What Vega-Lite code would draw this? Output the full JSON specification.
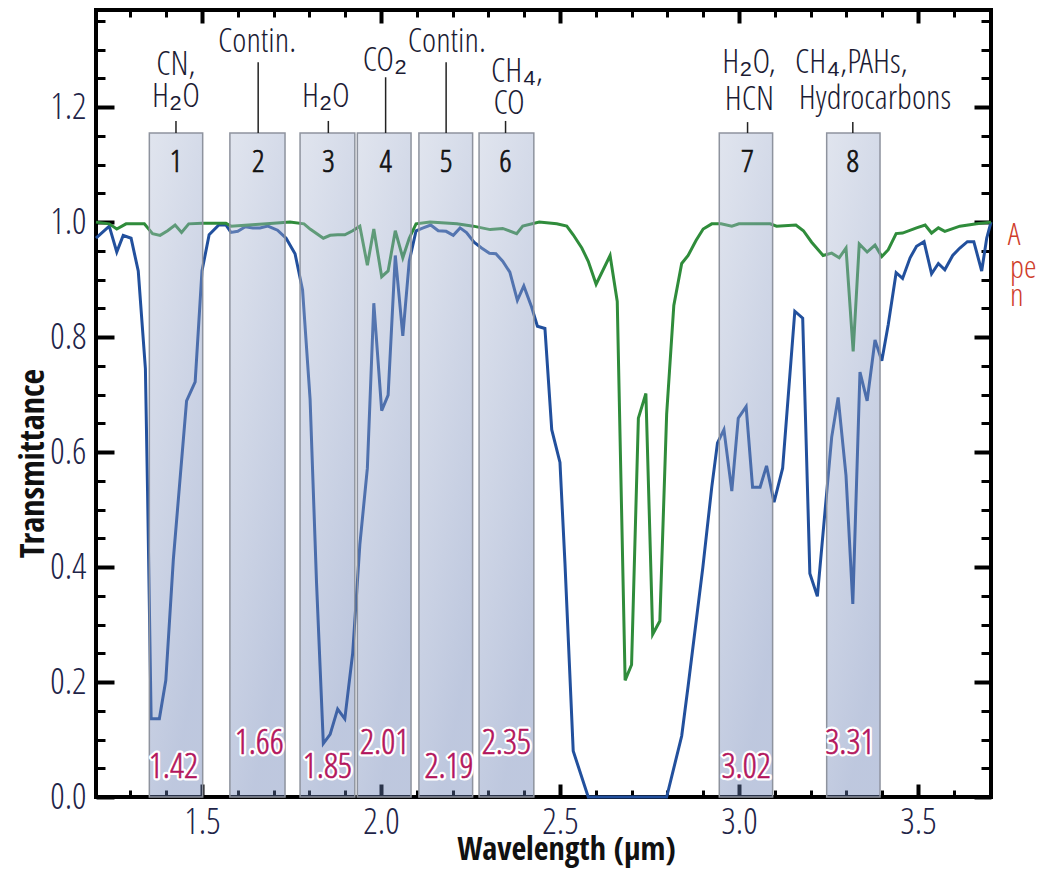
{
  "$schema": "https://vega.github.io/schema/vega-lite/v6.json",
  "width": 895,
  "height": 787,
  "autosize": {"type": "none"},
  "padding": {"left": 96, "top": 10, "right": 56, "bottom": 72},
  "background": "white",
  "config": {
    "view": {"stroke": "#000", "strokeWidth": 4},
    "axis": {"grid": false, "domain": false, "tickColor": "#000"}
  },
  "datasets": {
    "blue": [
      {"wl":1.204,"t":0.972},{"wl":1.241,"t":0.993},{"wl":1.262,"t":0.948},{"wl":1.280,"t":0.977},{"wl":1.302,"t":0.972},
      {"wl":1.322,"t":0.915},{"wl":1.342,"t":0.745},{"wl":1.348,"t":0.532},{"wl":1.358,"t":0.136},{"wl":1.381,"t":0.136},
      {"wl":1.399,"t":0.203},{"wl":1.420,"t":0.413},{"wl":1.457,"t":0.689},{"wl":1.481,"t":0.722},{"wl":1.500,"t":0.915},
      {"wl":1.520,"t":0.978},{"wl":1.547,"t":0.995},{"wl":1.567,"t":0.995},{"wl":1.581,"t":0.982},{"wl":1.600,"t":0.984},
      {"wl":1.621,"t":0.992},{"wl":1.642,"t":0.990},{"wl":1.662,"t":0.990},{"wl":1.684,"t":0.993},{"wl":1.711,"t":0.986},
      {"wl":1.735,"t":0.972},{"wl":1.760,"t":0.945},{"wl":1.781,"t":0.882},{"wl":1.802,"t":0.692},{"wl":1.820,"t":0.373},
      {"wl":1.839,"t":0.093},{"wl":1.858,"t":0.109},{"wl":1.879,"t":0.153},{"wl":1.899,"t":0.136},{"wl":1.921,"t":0.250},
      {"wl":1.941,"t":0.439},{"wl":1.962,"t":0.572},{"wl":1.980,"t":0.859},{"wl":2.002,"t":0.672},{"wl":2.020,"t":0.699},
      {"wl":2.040,"t":0.942},{"wl":2.061,"t":0.802},{"wl":2.079,"t":0.932},{"wl":2.098,"t":0.985},{"wl":2.118,"t":0.990},
      {"wl":2.139,"t":0.995},{"wl":2.160,"t":0.985},{"wl":2.182,"t":0.984},{"wl":2.202,"t":0.977},{"wl":2.221,"t":0.990},
      {"wl":2.239,"t":0.982},{"wl":2.260,"t":0.965},{"wl":2.281,"t":0.955},{"wl":2.303,"t":0.946},{"wl":2.321,"t":0.945},
      {"wl":2.340,"t":0.932},{"wl":2.360,"t":0.913},{"wl":2.381,"t":0.864},{"wl":2.399,"t":0.889},{"wl":2.421,"t":0.852},
      {"wl":2.437,"t":0.819},{"wl":2.458,"t":0.815},{"wl":2.477,"t":0.639},{"wl":2.500,"t":0.582},{"wl":2.514,"t":0.406},
      {"wl":2.537,"t":0.080},{"wl":2.579,"t":0.0},{"wl":2.640,"t":0.0},{"wl":2.798,"t":0.0},{"wl":2.840,"t":0.106},
      {"wl":2.858,"t":0.193},{"wl":2.899,"t":0.399},{"wl":2.924,"t":0.539},{"wl":2.940,"t":0.616},{"wl":2.958,"t":0.639},
      {"wl":2.980,"t":0.532},{"wl":2.998,"t":0.659},{"wl":3.020,"t":0.679},{"wl":3.038,"t":0.539},{"wl":3.059,"t":0.539},
      {"wl":3.077,"t":0.576},{"wl":3.098,"t":0.513},{"wl":3.122,"t":0.572},{"wl":3.156,"t":0.845},{"wl":3.178,"t":0.833},
      {"wl":3.198,"t":0.389},{"wl":3.219,"t":0.349},{"wl":3.259,"t":0.626},{"wl":3.277,"t":0.695},{"wl":3.299,"t":0.559},
      {"wl":3.318,"t":0.336},{"wl":3.338,"t":0.739},{"wl":3.358,"t":0.689},{"wl":3.380,"t":0.795},{"wl":3.399,"t":0.759},
      {"wl":3.417,"t":0.822},{"wl":3.439,"t":0.912},{"wl":3.457,"t":0.902},{"wl":3.478,"t":0.938},{"wl":3.496,"t":0.958},
      {"wl":3.517,"t":0.966},{"wl":3.538,"t":0.910},{"wl":3.557,"t":0.928},{"wl":3.575,"t":0.917},{"wl":3.597,"t":0.942},
      {"wl":3.617,"t":0.955},{"wl":3.638,"t":0.966},{"wl":3.656,"t":0.966},{"wl":3.678,"t":0.915},{"wl":3.692,"t":0.972},
      {"wl":3.704,"t":1.0}
    ],
    "green": [
      {"wl":1.204,"t":1.0},{"wl":1.241,"t":0.997},{"wl":1.262,"t":0.988},{"wl":1.288,"t":0.997},{"wl":1.339,"t":0.997},
      {"wl":1.362,"t":0.980},{"wl":1.383,"t":0.977},{"wl":1.404,"t":0.985},{"wl":1.425,"t":0.995},{"wl":1.443,"t":0.982},
      {"wl":1.463,"t":0.997},{"wl":1.500,"t":0.998},{"wl":1.567,"t":0.998},{"wl":1.581,"t":0.993},{"wl":1.650,"t":0.996},
      {"wl":1.700,"t":0.998},{"wl":1.746,"t":1.0},{"wl":1.785,"t":0.997},{"wl":1.802,"t":0.988},{"wl":1.839,"t":0.972},
      {"wl":1.858,"t":0.977},{"wl":1.879,"t":0.978},{"wl":1.899,"t":0.978},{"wl":1.921,"t":0.985},{"wl":1.941,"t":0.993},
      {"wl":1.962,"t":0.925},{"wl":1.980,"t":0.988},{"wl":2.002,"t":0.905},{"wl":2.020,"t":0.915},{"wl":2.040,"t":0.985},
      {"wl":2.061,"t":0.938},{"wl":2.079,"t":0.972},{"wl":2.098,"t":0.997},{"wl":2.137,"t":1.0},{"wl":2.212,"t":0.997},
      {"wl":2.258,"t":0.993},{"wl":2.305,"t":0.987},{"wl":2.340,"t":0.989},{"wl":2.379,"t":0.980},{"wl":2.396,"t":0.993},
      {"wl":2.442,"t":1.0},{"wl":2.491,"t":0.997},{"wl":2.519,"t":0.993},{"wl":2.537,"t":0.978},{"wl":2.561,"t":0.955},
      {"wl":2.579,"t":0.932},{"wl":2.601,"t":0.892},{"wl":2.640,"t":0.942},{"wl":2.660,"t":0.862},{"wl":2.682,"t":0.203},
      {"wl":2.700,"t":0.230},{"wl":2.719,"t":0.659},{"wl":2.740,"t":0.702},{"wl":2.759,"t":0.283},{"wl":2.779,"t":0.306},
      {"wl":2.798,"t":0.666},{"wl":2.818,"t":0.855},{"wl":2.840,"t":0.928},{"wl":2.858,"t":0.942},{"wl":2.880,"t":0.968},
      {"wl":2.900,"t":0.988},{"wl":2.924,"t":0.997},{"wl":2.950,"t":0.997},{"wl":2.980,"t":0.993},{"wl":3.000,"t":0.997},
      {"wl":3.087,"t":0.997},{"wl":3.105,"t":0.993},{"wl":3.159,"t":0.995},{"wl":3.180,"t":0.985},{"wl":3.203,"t":0.965},
      {"wl":3.235,"t":0.942},{"wl":3.259,"t":0.946},{"wl":3.280,"t":0.938},{"wl":3.299,"t":0.955},{"wl":3.319,"t":0.775},
      {"wl":3.336,"t":0.962},{"wl":3.358,"t":0.948},{"wl":3.380,"t":0.960},{"wl":3.399,"t":0.940},{"wl":3.417,"t":0.952},
      {"wl":3.439,"t":0.980},{"wl":3.457,"t":0.981},{"wl":3.496,"t":0.990},{"wl":3.520,"t":0.995},{"wl":3.538,"t":0.981},
      {"wl":3.557,"t":0.990},{"wl":3.575,"t":0.984},{"wl":3.617,"t":0.993},{"wl":3.664,"t":0.997},{"wl":3.704,"t":1.0}
    ],
    "bands": [
      {"start":1.353,"end":1.502,"center":1.4274,"num":"1","top":1.176},
      {"start":1.578,"end":1.732,"center":1.657,"num":"2","top":1.278},
      {"start":1.774,"end":1.927,"center":1.853,"num":"3","top":1.176},
      {"start":1.934,"end":2.084,"center":2.013,"num":"4","top":1.252},
      {"start":2.106,"end":2.256,"center":2.182,"num":"5","top":1.278},
      {"start":2.274,"end":2.427,"center":2.348,"num":"6","top":1.176},
      {"start":2.945,"end":3.094,"center":3.024,"num":"7","top":1.174},
      {"start":3.245,"end":3.394,"center":3.318,"num":"8","top":1.174}
    ],
    "annots": [
      {"x":1.427,"y":1.273,"label":"CN,"},
      {"x":1.4274,"y":1.217,"label":"H₂O"},
      {"x":1.654,"y":1.313,"label":"Contin."},
      {"x":1.846,"y":1.217,"label":"H₂O"},
      {"x":2.011,"y":1.280,"label":"CO₂"},
      {"x":2.184,"y":1.313,"label":"Contin."},
      {"x":2.380,"y":1.261,"label":"CH₄,"},
      {"x":2.358,"y":1.205,"label":"CO"},
      {"x":3.028,"y":1.277,"label":"H₂O,"},
      {"x":3.029,"y":1.213,"label":"HCN"},
      {"x":3.314,"y":1.277,"label":"CH₄,PAHs,"},
      {"x":3.380,"y":1.214,"label":"Hydrocarbons"}
    ],
    "peaks": [
      {"wl":1.42,"y":0.052},{"wl":1.66,"y":0.094},{"wl":1.85,"y":0.052},{"wl":2.01,"y":0.094},
      {"wl":2.19,"y":0.052},{"wl":2.35,"y":0.094},{"wl":3.02,"y":0.052},{"wl":3.31,"y":0.094}
    ],
    "fragments": [
      {"x":3.751,"y":0.977,"label":"A"},
      {"x":3.757,"y":0.920,"label":"pe"},
      {"x":3.757,"y":0.871,"label":"n"}
    ]
  },
  "resolve": {"axis": {"x": "independent", "y": "independent"}},
  "layer": [
    {
      "data": {"name": "blue"},
      "mark": {"type": "line", "color": "#22509d", "strokeWidth": 3},
      "encoding": {
        "x": {"field": "wl", "type": "quantitative", "scale": {"domain": [1.204, 3.704], "nice": false, "zero": false},
          "axis": {"orient": "bottom", "values": [1.5, 2, 2.5, 3, 3.5], "format": ".1f", "tickSize": -13, "tickWidth": 4,
            "labelPadding": 21, "labelFontSize": 36, "labelColor": "#1e2448", "labelFontWeight": 300,
            "labelFont": "Open Sans Condensed Light, Open Sans Condensed, sans-serif",
            "title": "Wavelength (µm)", "titleFont": "Open Sans Condensed, sans-serif",
            "titleFontSize": 32, "titleFontWeight": "bold", "titleColor": "#111", "titleX": 470, "titleY": 62,
            "titleBaseline": "alphabetic", "titleAlign": "center"}},
        "y": {"field": "t", "type": "quantitative", "scale": {"domain": [0, 1.369], "nice": false, "zero": false},
          "axis": {"orient": "left", "values": [0, 0.2, 0.4, 0.6, 0.8, 1, 1.2], "format": ".1f", "tickSize": -18, "tickWidth": 4,
            "labelPadding": 28, "labelFontSize": 36, "labelColor": "#1e2448", "labelFontWeight": 300,
            "labelFont": "Open Sans Condensed Light, Open Sans Condensed, sans-serif",
            "title": "Transmittance", "titleFont": "Open Sans Condensed, sans-serif",
            "titleFontSize": 34, "titleFontWeight": "bold", "titleColor": "#111", "titleX": -53, "titleY": 453,
            "titleAngle": -90, "titleBaseline": "alphabetic", "titleAlign": "center"}}
      }
    },
    {
      "data": {"name": "green"},
      "mark": {"type": "line", "color": "#2f8c3b", "strokeWidth": 3},
      "encoding": {
        "x": {"field": "wl", "type": "quantitative", "scale": {"domain": [1.204, 3.704], "nice": false, "zero": false},
          "axis": {"orient": "bottom", "values": [1.3,1.4,1.6,1.7,1.8,1.9,2.1,2.2,2.3,2.4,2.6,2.7,2.8,2.9,3.1,3.2,3.3,3.4,3.6],
            "tickSize": -7, "tickWidth": 3, "labels": false, "title": null}},
        "y": {"field": "t", "type": "quantitative", "scale": {"domain": [0, 1.369], "nice": false, "zero": false},
          "axis": {"orient": "left", "values": [0.05,0.1,0.15,0.25,0.3,0.35,0.45,0.5,0.55,0.65,0.7,0.75,0.85,0.9,0.95,1.05,1.1,1.15,1.25,1.3,1.35],
            "tickSize": -9, "tickWidth": 3, "labels": false, "title": null}}
      }
    },
    {
      "data": {"name": "bands"},
      "mark": {"type": "rect", "fill": {"gradient": "linear", "x1": 0, "y1": 0, "x2": 0.4, "y2": 1,
        "stops": [{"offset": 0, "color": "#b6c0d7"}, {"offset": 1, "color": "#647bb1"}]},
        "fillOpacity": 0.42, "stroke": "#8e939e", "strokeWidth": 1.5},
      "encoding": {
        "x": {"field": "start", "type": "quantitative", "scale": {"domain": [1.204, 3.704], "nice": false, "zero": false}, "axis": null},
        "x2": {"field": "end"},
        "y": {"datum": 0, "type": "quantitative", "scale": {"domain": [0, 1.369], "nice": false, "zero": false}, "axis": null},
        "y2": {"datum": 1.155}
      }
    },
    {
      "data": {"name": "bands"},
      "mark": {"type": "rule", "color": "#222", "strokeWidth": 1.5},
      "encoding": {
        "x": {"field": "center", "type": "quantitative", "scale": {"domain": [1.204, 3.704], "nice": false, "zero": false},
          "axis": {"orient": "top", "values": [1.5, 2, 2.5, 3, 3.5], "tickSize": -13, "tickWidth": 4, "labels": false, "title": null}},
        "y": {"field": "top", "type": "quantitative", "scale": {"domain": [0, 1.369], "nice": false, "zero": false},
          "axis": {"orient": "right", "values": [0, 0.2, 0.4, 0.6, 0.8, 1, 1.2], "tickSize": -17, "tickWidth": 4, "labels": false, "title": null}},
        "y2": {"datum": 1.155}
      }
    },
    {
      "data": {"name": "bands"},
      "mark": {"type": "text", "fontSize": 31, "color": "#111", "stroke": "#111", "strokeWidth": 0.7, "baseline": "middle", "align": "center", "fontWeight": 300,
        "font": "Open Sans Condensed Light, Open Sans Condensed, sans-serif"},
      "encoding": {
        "x": {"field": "center", "type": "quantitative", "scale": {"domain": [1.204, 3.704], "nice": false, "zero": false}, "axis": null},
        "y": {"datum": 1.103, "type": "quantitative", "scale": {"domain": [0, 1.369], "nice": false, "zero": false}, "axis": null},
        "text": {"field": "num"}
      }
    },
    {
      "data": {"name": "annots"},
      "mark": {"type": "text", "fontSize": 34, "color": "#1b1b33", "baseline": "middle", "align": "center", "fontWeight": 300,
        "font": "Open Sans Condensed Light, Open Sans Condensed, sans-serif"},
      "encoding": {
        "x": {"field": "x", "type": "quantitative", "scale": {"domain": [1.204, 3.704], "nice": false, "zero": false},
          "axis": {"orient": "top", "values": [1.3,1.4,1.6,1.7,1.8,1.9,2.1,2.2,2.3,2.4,2.6,2.7,2.8,2.9,3.1,3.2,3.3,3.4,3.6],
            "tickSize": -7, "tickWidth": 3, "labels": false, "title": null}},
        "y": {"field": "y", "type": "quantitative", "scale": {"domain": [0, 1.369], "nice": false, "zero": false},
          "axis": {"orient": "right", "values": [0.05,0.1,0.15,0.25,0.3,0.35,0.45,0.5,0.55,0.65,0.7,0.75,0.85,0.9,0.95,1.05,1.1,1.15,1.25,1.3,1.35],
            "tickSize": -10, "tickWidth": 3, "labels": false, "title": null}},
        "text": {"field": "label"}
      }
    },
    {
      "data": {"name": "peaks"},
      "mark": {"type": "text", "fontSize": 35, "fill": "white", "stroke": "white", "strokeWidth": 5, "strokeJoin": "round",
        "baseline": "middle", "align": "center", "fontWeight": 300,
        "font": "Open Sans Condensed Light, Open Sans Condensed, sans-serif"},
      "encoding": {
        "x": {"field": "wl", "type": "quantitative", "scale": {"domain": [1.204, 3.704], "nice": false, "zero": false}, "axis": null},
        "y": {"field": "y", "type": "quantitative", "scale": {"domain": [0, 1.369], "nice": false, "zero": false}, "axis": null},
        "text": {"field": "wl", "format": ".2f"}
      }
    },
    {
      "data": {"name": "peaks"},
      "mark": {"type": "text", "fontSize": 35, "fill": "#b3155c", "stroke": "#b3155c", "strokeWidth": 0.6,
        "baseline": "middle", "align": "center", "fontWeight": 300,
        "font": "Open Sans Condensed Light, Open Sans Condensed, sans-serif"},
      "encoding": {
        "x": {"field": "wl", "type": "quantitative", "scale": {"domain": [1.204, 3.704], "nice": false, "zero": false}, "axis": null},
        "y": {"field": "y", "type": "quantitative", "scale": {"domain": [0, 1.369], "nice": false, "zero": false}, "axis": null},
        "text": {"field": "wl", "format": ".2f"}
      }
    },
    {
      "data": {"name": "fragments"},
      "mark": {"type": "text", "fontSize": 32, "fill": "#cf3d2b", "baseline": "middle", "align": "left", "fontWeight": 300,
        "font": "Open Sans Condensed Light, Open Sans Condensed, sans-serif"},
      "encoding": {
        "x": {"field": "x", "type": "quantitative", "scale": {"domain": [1.204, 3.704], "nice": false, "zero": false}, "axis": null},
        "y": {"field": "y", "type": "quantitative", "scale": {"domain": [0, 1.369], "nice": false, "zero": false}, "axis": null},
        "text": {"field": "label"}
      }
    },
    {
      "mark": {"type": "rect", "fill": "#cf3d2b"},
      "encoding": {
        "x": {"datum": 3.765, "type": "quantitative", "scale": {"domain": [1.204, 3.704], "nice": false, "zero": false}, "axis": null},
        "x2": {"datum": 3.813},
        "y": {"datum": 0.816, "type": "quantitative", "scale": {"domain": [0, 1.369], "nice": false, "zero": false}, "axis": null},
        "y2": {"datum": 0.837}
      }
    },
    {
      "mark": {"type": "rect", "fill": "#000"},
      "encoding": {
        "x": {"datum": 3.765, "type": "quantitative", "scale": {"domain": [1.204, 3.704], "nice": false, "zero": false}, "axis": null},
        "x2": {"datum": 3.95},
        "y": {"datum": -0.2, "type": "quantitative", "scale": {"domain": [0, 1.369], "nice": false, "zero": false}, "axis": null},
        "y2": {"datum": 0.038}
      }
    }
  ]
}
